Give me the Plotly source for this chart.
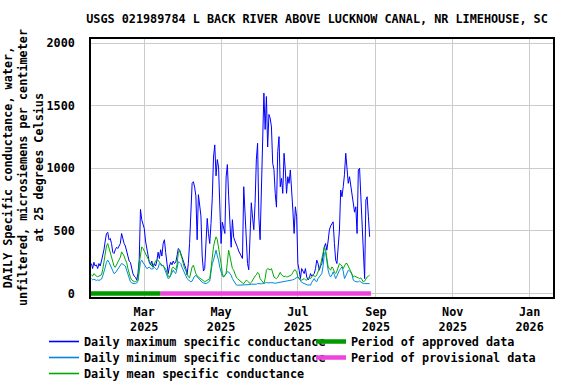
import pandas as pd
import plotly.graph_objects as go

start_date = "2025-01-18"

daily_max = [
    240, 200, 250, 220, 230, 200, 240, 220, 260, 300,
    350, 420, 480, 490, 430, 440, 400, 330, 320, 350,
    370, 360, 380, 400, 480, 430, 400, 380, 340, 300,
    260, 250, 200, 160, 140, 130, 110, 160, 270, 672,
    590, 560, 520, 420, 350, 290, 250, 230, 260, 210,
    240, 220, 260, 330, 280, 350, 300, 400, 430, 330,
    240, 160, 220, 250, 230, 260, 240, 250, 300, 360,
    350, 320, 300, 270, 230, 200, 150, 240, 400, 600,
    880, 893, 850, 780, 430, 790, 720, 620, 300, 180,
    200, 370, 600, 480, 400, 560, 760, 1090, 1187, 940,
    1070, 1010, 700, 400, 570, 510, 480, 930, 1030, 780,
    620, 370, 590, 450, 420, 400, 370, 340, 320, 300,
    280, 853, 670, 400, 240, 190, 440, 725, 610, 510,
    720, 1067, 1200, 610, 430, 880, 1180, 1600, 1310, 1573,
    1170, 1430, 1400, 1330, 1040, 990, 800, 690, 1133, 1253,
    853, 920, 800, 1120, 987, 800, 933, 880, 987, 773,
    667, 480, 693, 613, 240, 187, 120, 200, 180, 160,
    200, 133, 110, 120, 160, 140, 150, 160, 200, 267,
    240, 187, 220, 240, 300, 373, 400, 347, 420, 507,
    540, 560, 573, 400, 267, 240, 350, 507, 827, 773,
    853, 950, 1120, 987, 880, 933, 853, 773, 693, 650,
    693, 480, 987, 1000, 773, 507, 267, 120, 747, 773,
    613, 453,
]

daily_min = [
    120, 110, 115, 110, 105, 110, 105, 110, 115, 140,
    170, 210, 250, 267, 250, 230, 200, 180, 160, 165,
    180, 195, 210, 220, 240, 235, 230, 220, 187, 150,
    110, 95, 85, 80, 80, 80, 85, 100, 187, 250,
    267, 250, 230, 215, 200, 205, 213, 200, 195, 200,
    210, 200, 190, 205, 240, 230, 220, 227, 200, 170,
    147, 120, 125, 150, 175, 187, 170, 160, 200, 253,
    250, 240, 210, 187, 160, 130, 120, 110, 100, 95,
    100, 120, 140, 145, 133, 120, 105, 95, 90, 85,
    80, 80, 85, 90, 100, 170, 240, 267, 310, 347,
    300, 267, 210, 170, 140, 133, 145, 160, 175, 173,
    160, 147, 120, 100, 80, 70, 67, 67, 67, 67,
    67, 70, 67, 67, 70, 70, 72, 75, 75, 72,
    72, 75, 80, 78, 75, 78, 80, 85, 85, 88,
    85, 85, 88, 85, 85, 85, 83, 85, 85, 88,
    90, 88, 90, 95, 95, 100, 100, 105, 107, 107,
    110, 115, 120, 125, 133, 120, 100, 90, 85, 80,
    75, 67, 67, 70, 67, 90, 110, 120, 100, 95,
    120, 133, 150, 160, 220, 320, 333, 250, 187, 150,
    133, 150, 173, 150, 120, 140, 170, 187, 200, 213,
    180, 120, 140, 160, 187, 180, 173, 150, 107, 100,
    95, 93, 95, 100, 93, 85, 80, 80, 80, 80,
    82, 80,
]

daily_mean = [
    150, 140, 160, 145, 140, 135, 140, 145, 150, 190,
    250, 320, 380, 400, 360, 330, 290, 250, 220, 210,
    230, 250, 260, 290, 333, 320, 300, 270, 250, 200,
    160, 130, 110, 100, 95, 95, 100, 110, 240, 330,
    373, 360, 340, 320, 290, 267, 250, 240, 220, 215,
    240, 260, 270, 267, 250, 240, 230, 215, 210, 200,
    170, 140, 133, 150, 200, 213, 200, 190, 230, 320,
    347, 320, 280, 240, 200, 187, 160, 133, 125, 180,
    213, 227, 190, 160, 140, 133, 125, 120, 110, 100,
    95, 100, 105, 110, 120, 200, 293, 373, 420, 453,
    430, 373, 300, 240, 160, 133, 145, 160, 250, 347,
    300, 240, 200, 187, 150, 133, 120, 110, 100, 90,
    85, 80, 90, 107, 100, 85, 80, 90, 110, 130,
    140, 150, 170, 160, 120, 107, 90, 80, 120, 187,
    200, 195, 190, 200, 160, 133, 125, 120, 130, 150,
    170, 150, 140, 135, 140, 133, 135, 140, 145, 150,
    170, 187, 190, 170, 133, 120, 110, 107, 115, 120,
    110, 107, 120, 130, 120, 130, 147, 140, 135, 150,
    170, 200, 230, 280, 320, 373, 350, 280, 213, 200,
    187, 213, 200, 170, 160, 180, 210, 240, 230, 220,
    200, 215, 240, 240, 220, 187, 170, 150, 133, 140,
    133, 130, 125, 120, 125, 110, 93, 100, 120, 133,
    140, 147,
]

approved_period = ["2025-01-17", "2025-03-14"]
provisional_period = ["2025-03-14", "2025-08-28"]

tick_dates = ["2025-03-01", "2025-05-01", "2025-07-01", "2025-09-01", "2025-11-01", "2026-01-01"]
tick_labels = ["Mar<br>2025", "May<br>2025", "Jul<br>2025", "Sep<br>2025", "Nov<br>2025", "Jan<br>2026"]

y_ticks = [0, 500, 1000, 1500, 2000]

title_text = "USGS 021989784 L BACK RIVER ABOVE LUCKNOW CANAL, NR LIMEHOUSE, SC"
y_title = "DAILY Specific conductance, water,<br>unfiltered, microsiemens per centimeter<br>at 25 degrees Celsius"

dates = pd.date_range(start_date, periods=len(daily_max), freq="D")

FONT = dict(family="DejaVu Sans Mono", size=11.8, color="black", weight="bold")

series = [
    ("Daily maximum specific conductance", daily_max, "#0000ff", "legend"),
    ("Daily minimum specific conductance", daily_min, "#0088dd", "legend2"),
    ("Daily mean specific conductance", daily_mean, "#00aa00", "legend3"),
]

fig = go.Figure()
for name, vals, color, leg in series:
    fig.add_trace(go.Scatter(x=dates, y=vals, mode="lines", name=name,
                             line=dict(color=color, width=1), legend=leg, legendgroup=name))
fig.add_trace(go.Scatter(x=approved_period, y=[0, 0], mode="lines", name="Period of approved data",
                         line=dict(color="#009900", width=4.5), legend="legend4"))
fig.add_trace(go.Scatter(x=provisional_period, y=[0, 0], mode="lines", name="Period of provisional data",
                         line=dict(color="#ee44dd", width=4.5), legend="legend5"))


def legend_at(x_px, row_center_px):
    return dict(orientation="v", xanchor="left", yanchor="top", xref="container", yref="container",
                x=x_px / 576, y=1 - (row_center_px - 14) / 384,
                itemwidth=30, font=FONT, tracegroupgap=0, traceorder="normal",
                bgcolor="rgba(0,0,0,0)", borderwidth=0, itemclick=False, itemdoubleclick=False)


fig.update_layout(
    width=576, height=384,
    margin=dict(l=91, r=23, t=39, b=87, autoexpand=False),
    paper_bgcolor="white", plot_bgcolor="white",
    font=FONT,
    title=dict(text=title_text, x=317 / 576, xref="container", xanchor="center",
               y=1 - 19 / 384, yref="container", yanchor="middle", font=FONT),
    showlegend=True,
    legend=legend_at(44, 341),
    legend2=legend_at(44, 357),
    legend3=legend_at(44, 373),
    legend4=legend_at(311, 341),
    legend5=legend_at(311, 357),
    annotations=[dict(text=y_title, textangle=-90, xref="paper", yref="paper",
                      x=-68 / 462, y=0.5, xanchor="center", yanchor="middle",
                      showarrow=False, font=FONT)],
)

fig.update_xaxes(range=["2025-01-17 17:00", "2026-01-19 14:00"], tickvals=tick_dates, ticktext=tick_labels,
                 showgrid=True, gridcolor="#cccccc", gridwidth=1, showline=True, linecolor="black",
                 linewidth=1.5, mirror=True, ticks="", ticklabelstandoff=3, zeroline=False)
fig.update_yaxes(range=[-27, 2032], tickvals=y_ticks, showgrid=True, gridcolor="#cccccc", gridwidth=1,
                 showline=True, linecolor="black", linewidth=1.5, mirror=True, ticks="",
                 ticklabelstandoff=12, zeroline=False)

# make the thin legend sample lines a little heavier so their colour reads clearly
fig.write_html("out.html", config={"displayModeBar": False},
               post_script=("document.body.style.margin='0';document.body.style.overflow='hidden';"
                            "document.querySelectorAll('.legendlines path').forEach(function(p){"
                            "if(parseFloat(p.style.strokeWidth)<2){p.style.strokeWidth='1.6px';}});"))
